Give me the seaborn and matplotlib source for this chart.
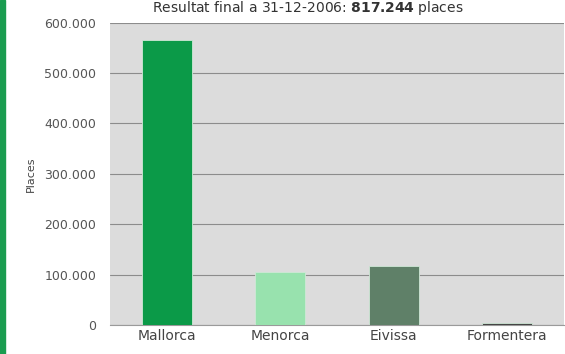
import matplotlib
matplotlib.use("Agg")
import matplotlib.pyplot as plt
from matplotlib.patches import Rectangle
from matplotlib.ticker import FuncFormatter, FixedLocator
import seaborn as sns

# Places turístiques per illa
illes = ["Mallorca", "Menorca", "Eivissa", "Formentera"]
places = [565000, 105000, 118000, 4000]
colors = ["#0b9a48", "#98e2ae", "#5f8068", "#454545"]
y_ticks = [0, 100000, 200000, 300000, 400000, 500000, 600000]

sns.set_style("white")
plt.rcParams["font.family"] = ["DejaVu Sans"]

fig = plt.figure(figsize=(5.65, 3.54), dpi=100)
ax = fig.add_axes([110 / 565, 29 / 354, 454 / 565, 302.5 / 354])
ax.set_facecolor("#dcdcdc")

sns.barplot(x=illes, y=places, hue=illes, palette=colors, saturation=1, width=0.44,
            edgecolor="#cfe8d6", linewidth=0.6, legend=False, ax=ax, zorder=3)

ax.set_xlim(-0.5, 3.5)
ax.set_ylim(0, 600000)
ax.yaxis.set_major_locator(FixedLocator(y_ticks))
ax.yaxis.set_major_formatter(FuncFormatter(lambda v, p: f"{int(v):,}".replace(",", ".")))
ax.grid(axis="y", color="#8c8c8c", linewidth=0.8, zorder=1)
ax.set_axisbelow(True)

for s in ax.spines.values():
    s.set_visible(False)
ax.spines["bottom"].set_visible(True)
ax.spines["bottom"].set_color("#9a9a9a")

ax.tick_params(axis="y", length=7, color="#8a8a8a", labelsize=9, labelcolor="#555555", pad=3)
ax.tick_params(axis="x", length=0, labelsize=10, labelcolor="#444444", pad=3)
ax.set_xticks(range(len(illes)))
ax.set_xticklabels(illes)
# small separators between categories
ax.set_xticks([0.5, 1.5, 2.5], minor=True)
ax.tick_params(axis="x", which="minor", length=5, color="#b0b0b0", direction="out")

ax.set_xlabel("")
ax.set_ylabel("Places", fontsize=8, color="#444444", labelpad=6)

fig.text(0.545, 1 - 12 / 354, r"Resultat final a 31-12-2006: $\bf{817.244}$ places",
         ha="center", va="baseline", fontsize=10, color="#333333")

fig.patches.append(Rectangle((0, 0), 5 / 565, 1, transform=fig.transFigure,
                             color="#1a9c50", zorder=5))

fig.savefig("out.png", dpi=100)
